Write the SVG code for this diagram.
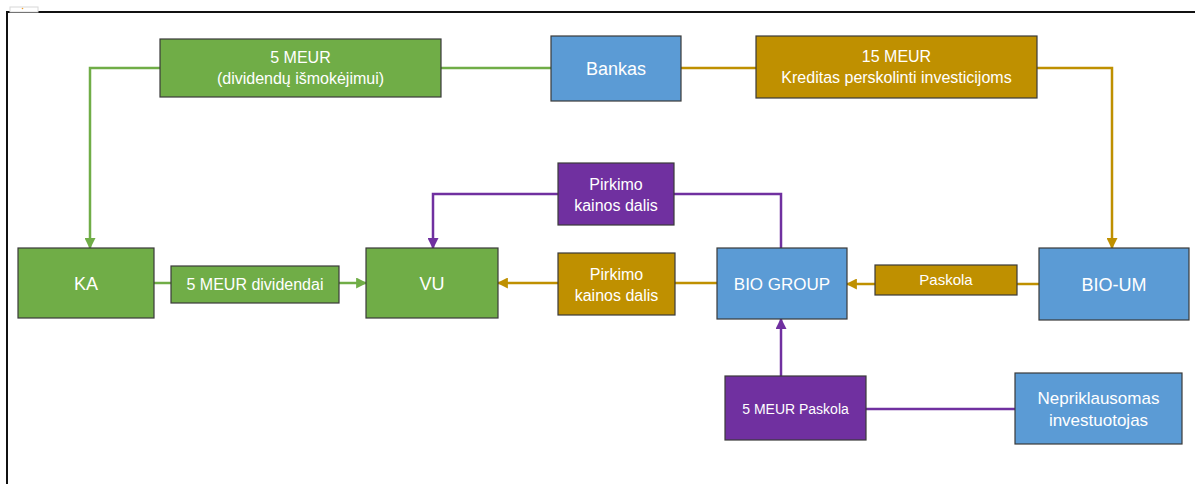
<svg xmlns="http://www.w3.org/2000/svg" width="1195" height="484" viewBox="0 0 1195 484">
  <defs>
    <style>
      .box { stroke: #3a3a3a; stroke-width: 1.2; }
      .green { fill: #70AD47; }
      .blue { fill: #5B9BD5; }
      .gold { fill: #BF9000; }
      .purple { fill: #7030A0; }
      .lbl { fill: #ffffff; font-family: "Liberation Sans", Arial, sans-serif; text-anchor: middle; }
      .s14 { font-size: 14px; }
      .s15 { font-size: 15px; }
      .s16 { font-size: 16px; }
      .s17 { font-size: 17px; }
      .s18 { font-size: 18px; }
      .link { fill: none; stroke-width: 2.5; }
      .lg { stroke: #70AD47; }
      .ly { stroke: #BF9000; }
      .lp { stroke: #7030A0; }
    </style>
    <marker id="ahG" viewBox="0 0 10 10" refX="9" refY="5" markerWidth="4.4" markerHeight="4.4" orient="auto" markerUnits="strokeWidth">
      <path d="M0,0 L10,5 L0,10 z" fill="#70AD47"/>
    </marker>
    <marker id="ahY" viewBox="0 0 10 10" refX="9" refY="5" markerWidth="4.4" markerHeight="4.4" orient="auto" markerUnits="strokeWidth">
      <path d="M0,0 L10,5 L0,10 z" fill="#BF9000"/>
    </marker>
    <marker id="ahP" viewBox="0 0 10 10" refX="9" refY="5" markerWidth="4.4" markerHeight="4.4" orient="auto" markerUnits="strokeWidth">
      <path d="M0,0 L10,5 L0,10 z" fill="#7030A0"/>
    </marker>
  </defs>

  <rect x="0" y="0" width="1195" height="484" fill="#ffffff"/>

  <!-- sheet frame -->
  <g id="frame">
    <path d="M7,484 V12 H1195" fill="none" stroke="#111111" stroke-width="2"/>
    <rect x="10" y="7" width="28" height="5" fill="#ffffff" stroke="#d8d8d8" stroke-width="1"/>
    <circle cx="22.5" cy="8.5" r="0.8" fill="#f0a030"/>
  </g>

  <!-- connectors -->
  <g id="connectors">
    <path class="link lg" d="M551,68 H441"/>
    <path class="link lg" d="M160,68 H90 V248" marker-end="url(#ahG)"/>
    <path class="link ly" d="M681,68 H756"/>
    <path class="link ly" d="M1037,68 H1112 V248" marker-end="url(#ahY)"/>
    <path class="link lp" d="M781,248 V194 H674"/>
    <path class="link lp" d="M558,194 H433 V248" marker-end="url(#ahP)"/>
    <path class="link ly" d="M717,283 H675"/>
    <path class="link ly" d="M558,283 H498" marker-end="url(#ahY)"/>
    <path class="link ly" d="M1039,284 H1017"/>
    <path class="link ly" d="M875,284 H847" marker-end="url(#ahY)"/>
    <path class="link lg" d="M154,283 H171"/>
    <path class="link lg" d="M339,283 H366" marker-end="url(#ahG)"/>
    <path class="link lp" d="M1015,409 H866"/>
    <path class="link lp" d="M781,376 V319" marker-end="url(#ahP)"/>
  </g>

  <g id="n-dividendu">
    <rect class="box green" x="160" y="39" width="281" height="58"/>
    <text class="lbl s16" x="300.5" y="63">5 MEUR</text>
    <text class="lbl s16" x="300.5" y="84">(dividendų išmokėjimui)</text>
  </g>

  <g id="n-bankas">
    <rect class="box blue" x="551" y="36" width="130" height="65"/>
    <text class="lbl s18" x="616" y="75">Bankas</text>
  </g>

  <g id="n-kreditas">
    <rect class="box gold" x="756" y="36" width="281" height="62"/>
    <text class="lbl s16" x="896.5" y="62">15 MEUR</text>
    <text class="lbl s16" x="896.5" y="83">Kreditas perskolinti investicijoms</text>
  </g>

  <g id="n-pirkimo-p">
    <rect class="box purple" x="558" y="163" width="116" height="62"/>
    <text class="lbl s16" x="616" y="190">Pirkimo</text>
    <text class="lbl s16" x="616" y="211">kainos dalis</text>
  </g>

  <g id="n-ka">
    <rect class="box green" x="18" y="248" width="136" height="70"/>
    <text class="lbl s18" x="86" y="290">KA</text>
  </g>

  <g id="n-dividendai">
    <rect class="box green" x="171" y="266" width="168" height="37"/>
    <text class="lbl s16" x="255" y="290">5 MEUR dividendai</text>
  </g>

  <g id="n-vu">
    <rect class="box green" x="366" y="248" width="132" height="70"/>
    <text class="lbl s18" x="432" y="290">VU</text>
  </g>

  <g id="n-pirkimo-y">
    <rect class="box gold" x="558" y="253" width="117" height="62"/>
    <text class="lbl s16" x="616.5" y="280">Pirkimo</text>
    <text class="lbl s16" x="616.5" y="301">kainos dalis</text>
  </g>

  <g id="n-biogroup">
    <rect class="box blue" x="717" y="248" width="130" height="71"/>
    <text class="lbl s17" x="782" y="290">BIO GROUP</text>
  </g>

  <g id="n-paskola">
    <rect class="box gold" x="875" y="265" width="142" height="30"/>
    <text class="lbl s15" x="946" y="285">Paskola</text>
  </g>

  <g id="n-bioum">
    <rect class="box blue" x="1039" y="248" width="150" height="72"/>
    <text class="lbl s18" x="1114" y="291">BIO-UM</text>
  </g>

  <g id="n-paskola5">
    <rect class="box purple" x="725" y="376" width="141" height="64"/>
    <text class="lbl s14" x="795.5" y="414">5 MEUR Paskola</text>
  </g>

  <g id="n-investuotojas">
    <rect class="box blue" x="1015" y="373" width="167" height="71"/>
    <text class="lbl s17" x="1098.5" y="404">Nepriklausomas</text>
    <text class="lbl s17" x="1098.5" y="426">investuotojas</text>
  </g>
</svg>
